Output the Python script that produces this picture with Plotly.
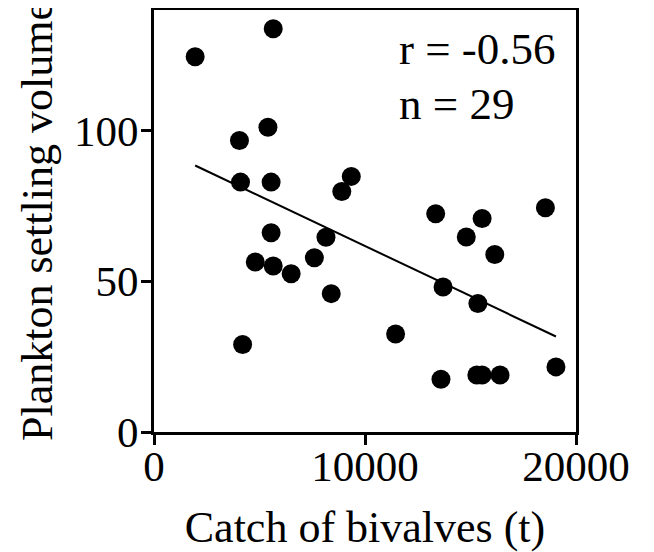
import numpy as np
import plotly.graph_objects as go

# Catch of bivalves (t) vs plankton settling volume, one point per year
catch = [1950, 5650, 4050, 5400, 4100, 5550, 5550, 4800, 5650, 6500,
         7600, 8150, 9350, 8900, 13350, 15550, 14800, 16150, 18550, 8400,
         13700, 15350, 11450, 13600, 15300, 15550, 16400, 19050, 4200]
volume = [124.5, 133.8, 96.7, 101.1, 82.9, 82.9, 66.1, 56.4, 55.1, 52.5,
          57.8, 64.6, 84.8, 79.8, 72.4, 70.8, 64.7, 58.9, 74.4, 45.9,
          48.1, 42.6, 32.5, 17.5, 18.9, 18.9, 18.9, 21.6, 29.0]

x_ticks = [0, 10000, 20000]
x_labels = ['0', '10000', '20000']
y_ticks = [0, 50, 100]
stats = ["r = -0.56", "n = 29"]

# linear regression line, from smallest to largest catch
slope, intercept = np.polyfit(catch, volume, 1)
fit_x = np.array([min(catch), max(catch)])
fit_y = slope * fit_x + intercept

font = "Liberation Serif, Times New Roman, serif"

fig = go.Figure()

fig.add_trace(go.Scatter(x=fit_x, y=fit_y, mode='lines',
                         line=dict(color='black', width=2), hoverinfo='skip'))

fig.add_trace(go.Scatter(x=catch, y=volume, mode='markers',
                         marker=dict(color='black', size=19, line=dict(width=0))))

axis_style = dict(
    showgrid=False,
    zeroline=False,
    showline=True,
    linecolor='black',
    linewidth=3,
    mirror=True,
    ticks='outside',
    ticklen=10,
    tickwidth=3,
    tickcolor='black',
    tickfont=dict(family=font, size=43, color='black'),
    automargin=False,
)

# the page body adds an 8px offset, so the figure is placed 8px in from the corner
fig.update_layout(
    width=638,
    height=544,
    margin=dict(l=146, r=70, t=2, b=120),
    plot_bgcolor='white',
    paper_bgcolor='white',
    showlegend=False,
    font=dict(family=font, color='black'),
    xaxis=dict(range=[0, 20000], tickvals=x_ticks, ticktext=x_labels,
               ticklabelstandoff=-16,
               title=dict(text='Catch of bivalves (t)', font=dict(size=44), standoff=32),
               **axis_style),
    yaxis=dict(range=[0, 140], tickvals=y_ticks, ticklabelstandoff=-6,
               title=dict(text='Plankton settling volume', font=dict(size=44), standoff=8),
               **axis_style),
)

# r and n in the upper right corner
for i, s in enumerate(stats):
    fig.add_annotation(text=s, xref='paper', yref='paper',
                       x=0.577, y=0.972 - i * 0.13, xanchor='left', yanchor='top',
                       showarrow=False, font=dict(family=font, size=45, color='black'))

fig.write_html("out.html")
